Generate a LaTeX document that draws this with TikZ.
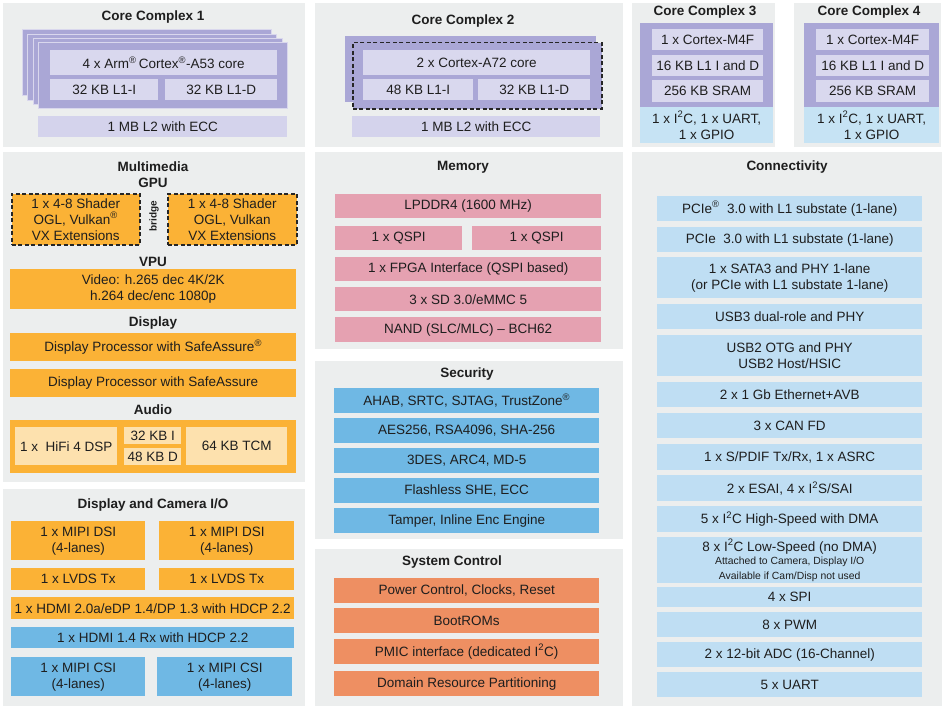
\documentclass[tikz,border=0pt]{standalone}
\usepackage{fontspec}
\setmainfont{Liberation Sans}
\usetikzlibrary{positioning}

\definecolor{panelgray}{HTML}{ECEEEE}
\definecolor{cardpurple}{HTML}{AAA7D6}
\definecolor{lavender}{HTML}{D9D8EE}
\definecolor{cachebar}{HTML}{D4D3EC}
\definecolor{paleblue}{HTML}{C6E3F4}
\definecolor{mmorange}{HTML}{FBB236}
\definecolor{paleorange}{HTML}{FDE1AE}
\definecolor{iblue}{HTML}{6FB8E4}
\definecolor{mempink}{HTML}{E5A1B1}
\definecolor{salmon}{HTML}{EE8F62}
\definecolor{conblue}{HTML}{BFDEF3}
\definecolor{txt}{HTML}{1E1E1E}

\newcommand{\reg}{\textsuperscript{\textregistered}}
\newcommand{\iic}{I\textsuperscript{2}C}

\tikzset{
  wh/.style 2 args={minimum width={(#1)*1pt}, minimum height={(#2)*1pt}},
  panel/.style={anchor=north west, inner sep=0pt, fill=panelgray},
  blk/.style={anchor=north west, inner sep=0pt, align=center, text=txt,
    font=\fontsize{13.5}{16}\selectfont},
  hdr/.style={text=txt, inner sep=0pt, font=\bfseries\fontsize{13.5}{16}\selectfont},
  card/.style={blk, fill=cardpurple, draw=white!55!cardpurple, line width=0.8pt},
  core/.style={blk, fill=lavender},
  cache/.style={blk, fill=cachebar},
  pio/.style={blk, fill=paleblue},
  orng/.style={blk, fill=mmorange},
  porng/.style={blk, fill=paleorange},
  gpubox/.style={orng, draw=black!85, line width=1.5pt, dash pattern=on 4pt off 2.5pt},
  ibox/.style={blk, fill=iblue},
  pink/.style={blk, fill=mempink},
  ctrl/.style={blk, fill=salmon},
  conn/.style={blk, fill=conblue}
}

\begin{document}
\begin{tikzpicture}[x=1pt, y=-1pt]
\useasboundingbox (0,0) rectangle (945,709);

% panels
\node[panel, wh={302}{144}] (cc1) at (3,3) {};
\node[panel, wh={308}{144}] (cc2) at (315,3) {};
\node[panel, wh={143}{144}] (cc3) at (632,3) {};
\node[panel, wh={147}{144}] (cc4) at (794,3) {};
\node[panel, wh={302}{330}] (mm) at (3,152) {};
\node[panel, wh={302}{217}] (dcio) at (3,489) {};
\node[panel, wh={308}{197}] (mem) at (315,152) {};
\node[panel, wh={308}{178}] (sec) at (315,361) {};
\node[panel, wh={308}{157}] (sys) at (315,549) {};
\node[panel, wh={310}{554}] (con) at (632,152) {};

% Core Complex 1
\node[hdr] (cc1t) at (153,17) {Core Complex 1};
\foreach \i in {3,2,1,0}
  \node[card, wh={249}{66}] (cc1card\i) at ({38-5.4*\i},{42-4.2*\i}) {};
\node[core, wh={227}{25}] (a53) at (50,50) {4 x Arm\reg\,Cortex\reg-A53 core};
\node[core, wh={108}{21}] (a53i) at (50,79) {32 KB L1-I};
\node[core, wh={112}{21}] (a53d) at (165,79) {32 KB L1-D};
\node[cache, wh={249}{21}] (cc1l2) at (38,116) {1 MB L2 with ECC};

% Core Complex 2
\node[hdr] (cc2t) at (463,21) {Core Complex 2};
\node[card, draw=none, wh={251}{66}] (cc2back) at (345,36) {};
\node[card, draw=black!85, line width=1.5pt, dash pattern=on 4pt off 2.5pt, wh={249}{66}] (cc2card) at (352,42) {};
\node[core, wh={227}{25}] (a72) at (363,50) {2 x Cortex-A72 core};
\node[core, wh={110}{21}] (a72i) at (363,79) {48 KB L1-I};
\node[core, wh={112}{21}] (a72d) at (478,79) {32 KB L1-D};
\node[cache, wh={248}{21}] (cc2l2) at (352,116) {1 MB L2 with ECC};

% Core Complex 3 and 4
\foreach \n/\x/\w in {3/640/133, 4/804/135} {
  \node[hdr] (cc\n t) at (\x+65,12) {Core Complex \n};
  \node[card, draw=none, wh={\w}{84}] (cc\n card) at (\x,23) {};
  \node[core, wh={\w-22}{21}] (cc\n m4) at (\x+12,29) {1 x Cortex-M4F};
  \node[core, wh={\w-22}{21}] (cc\n l1) at (\x+12,55) {16 KB L1 I and D};
  \node[core, wh={\w-22}{22}] (cc\n ram) at (\x+12,80) {256 KB SRAM};
  \node[pio, wh={\w}{36}] (cc\n io) at (\x,107) {1 x \iic, 1 x UART,\\1 x GPIO};
}

% Multimedia
\node[hdr] (mmt) at (153,167) {Multimedia};
\node[hdr] (gput) at (153,183) {GPU};
\node[gpubox, wh={128}{51}] (gpu1) at (11,193) {1 x 4-8 Shader\\OGL, Vulkan\reg\\VX Extensions};
\node[gpubox, wh={129}{51}] (gpu2) at (167,193) {1 x 4-8 Shader\\OGL, Vulkan\\VX Extensions};
\node[hdr, rotate=90, font=\bfseries\fontsize{10}{12}\selectfont] (bridge) at (154,216) {bridge};
\node[hdr] (vput) at (153,262) {VPU};
\node[orng, wh={286}{40}] (vpu) at (10,269) {Video: h.265 dec 4K/2K\\h.264 dec/enc 1080p};
\node[hdr] (dispt) at (153,323) {Display};
\node[orng, wh={286}{28}] (disp1) at (10,333) {Display Processor with SafeAssure\reg};
\node[orng, wh={286}{28}] (disp2) at (10,369) {Display Processor with SafeAssure};
\node[hdr] (audt) at (153,410) {Audio};
\node[orng, wh={286}{53}] (audio) at (10,420) {};
\node[porng, wh={102}{38}] (dsp) at (15,427) {1 x\ \ HiFi 4 DSP};
\node[porng, wh={57}{17}] (dspi) at (124,427) {32 KB I};
\node[porng, wh={57}{17}] (dspd) at (124,448) {48 KB D};
\node[porng, wh={101}{38}] (tcm) at (186,427) {64 KB TCM};

% Display and Camera I/O
\node[hdr] (dciot) at (153,505) {Display and Camera I/O};
\node[orng, wh={134}{39}] (dsi1) at (11,521) {1 x MIPI DSI\\(4-lanes)};
\node[orng, wh={135}{39}] (dsi2) at (159,521) {1 x MIPI DSI\\(4-lanes)};
\node[orng, wh={134}{22}] (lvds1) at (11,568) {1 x LVDS Tx};
\node[orng, wh={135}{22}] (lvds2) at (159,568) {1 x LVDS Tx};
\node[orng, wh={283}{22}] (hdmitx) at (11,597) {1 x HDMI 2.0a/eDP 1.4/DP 1.3 with HDCP 2.2};
\node[ibox, wh={283}{21}] (hdmirx) at (11,627) {1 x HDMI 1.4 Rx with HDCP 2.2};
\node[ibox, wh={134}{39}] (csi1) at (11,657) {1 x MIPI CSI\\(4-lanes)};
\node[ibox, wh={135}{39}] (csi2) at (157,657) {1 x MIPI CSI\\(4-lanes)};

% Memory
\node[hdr] (memt) at (463,167) {Memory};
\node[pink, wh={266}{24}] (lpddr) at (335,194) {LPDDR4 (1600 MHz)};
\node[pink, wh={127}{24}] (qspi1) at (335,226) {1 x QSPI};
\node[pink, wh={129}{24}] (qspi2) at (472,226) {1 x QSPI};
\node[pink, wh={266}{24}] (fpga) at (335,257) {1 x FPGA Interface (QSPI based)};
\node[pink, wh={266}{24}] (sd) at (335,287) {3 x SD 3.0/eMMC 5};
\node[pink, wh={266}{25}] (nand) at (335,317) {NAND (SLC/MLC) -- BCH62};

% Security
\node[hdr] (sect) at (467,374) {Security};
\foreach \y/\t [count=\k] in {388/{AHAB, SRTC, SJTAG, TrustZone\reg}, 418/{AES256, RSA4096, SHA-256},
    448/{3DES, ARC4, MD-5}, 478/{Flashless SHE, ECC}, 508/{Tamper, Inline Enc Engine}}
  \node[ibox, wh={265}{25}] (sec\k) at (334,\y) {\t};

% System Control
\node[hdr] (syst) at (452,562) {System Control};
\foreach \y/\t [count=\k] in {578/{Power Control, Clocks, Reset}, 608/{BootROMs},
    639/{PMIC interface (dedicated \iic)}, 671/{Domain Resource Partitioning}}
  \node[ctrl, wh={265}{25}] (sys\k) at (334,\y) {\t};

% Connectivity
\node[hdr] (cont) at (787,167) {Connectivity};
\foreach \y/\h/\t [count=\k] in {196/25/{PCIe\reg\ \ 3.0 with L1 substate (1-lane)},
    227/25/{PCIe\ \ 3.0 with L1 substate (1-lane)},
    257/41/{1 x SATA3 and PHY 1-lane\\(or PCIe with L1 substate 1-lane)},
    304/25/{USB3 dual-role and PHY},
    335/41/{USB2 OTG and PHY\\USB2 Host/HSIC},
    382/25/{2 x 1 Gb Ethernet+AVB},
    413/25/{3 x CAN FD},
    444/26/{1 x S/PDIF Tx/Rx, 1 x ASRC},
    475/26/{2 x ESAI, 4 x I\textsuperscript{2}S/SAI},
    506/26/{5 x \iic\ High-Speed with DMA},
    587/20/{4 x SPI},
    612/25/{8 x PWM},
    642/25/{2 x 12-bit ADC (16-Channel)},
    672/25/{5 x UART}}
  \node[conn, wh={265}{\h}] (con\k) at (657,\y) {\t};
\node[conn, wh={265}{46}] (i2cls) at (657,537)
  {8 x \iic\ Low-Speed (no DMA)\\[-3pt]{\fontsize{10.4}{13}\selectfont Attached to Camera, Display I/O}\\[-1pt]{\fontsize{10.4}{13}\selectfont Available if Cam/Disp not used}};

\end{tikzpicture}
\end{document}
